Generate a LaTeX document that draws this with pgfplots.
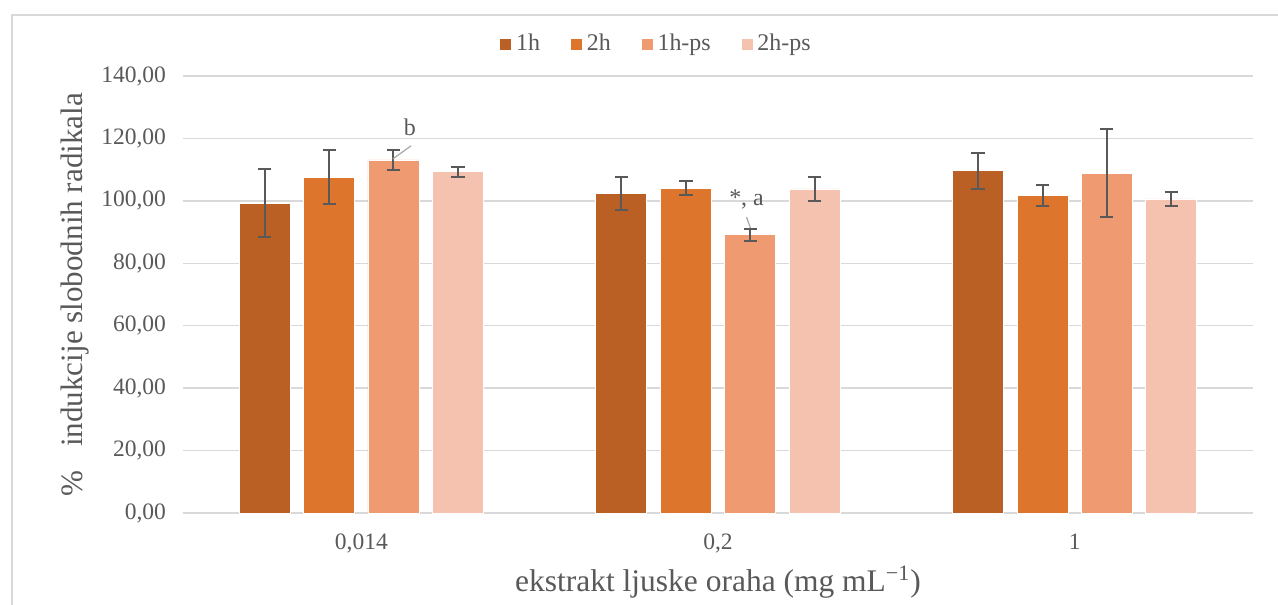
\documentclass[border=0pt]{standalone}
\usepackage{fontspec}
\setmainfont{Liberation Serif}
\usepackage{pgfplots}
\pgfplotsset{compat=1.18}

\definecolor{cA}{HTML}{BB6024}
\definecolor{cB}{HTML}{DE752C}
\definecolor{cC}{HTML}{F09A72}
\definecolor{cD}{HTML}{F5C2B0}
\definecolor{txt}{HTML}{595959}
\definecolor{gridc}{HTML}{D9D9D9}

\begin{document}
\begin{tikzpicture}[x=1bp,y=1bp]
  \useasboundingbox (-91.5bp,-46bp) rectangle (547.5bp,256.5bp);
  \draw[gridc, line width=0.75bp] (-85.5bp,-50bp) -- (-85.5bp,249bp) -- (550bp,249bp);
  \begin{axis}[
      at={(0,0)}, anchor=south west,
      scale only axis, width=535bp, height=218.5bp,
      ybar, bar width=0.143,
      xmin=-0.5, xmax=2.5, ymin=0, ymax=140,
      xtick={0,1,2}, xticklabels={{0,014},{0,2},{1}},
      ytick={0,20,...,140},
      major tick length=0,
      ymajorgrids, grid style={gridc, line width=0.75bp},
      separate axis lines,
      axis x line*=bottom,
      x axis line style={gridc, line width=0.75bp, -},
      y axis line style={draw=none},
      axis y line*=left,
      tick label style={txt, font=\fontsize{11.8}{14}\selectfont},
      yticklabel style={xshift=-5bp},
      xticklabel style={yshift=-7bp},
      /pgf/number format/.cd, fixed, fixed zerofill, precision=2, use comma, assume math mode=true,
      /pgfplots/.cd,
      xlabel={ekstrakt ljuske oraha (mg mL\textsuperscript{−1})},
      ylabel={\%\ \ \ indukcije slobodnih radikala},
      xlabel style={at={(axis description cs:0.5,-0.158)}, anchor=center, txt, font=\fontsize{15.8}{18}\selectfont},
      ylabel style={at={(axis description cs:-0.101,0.5)}, anchor=center, txt, font=\fontsize{15.6}{18}\selectfont},
      legend style={at={(axis description cs:0.443,1.073)}, anchor=center, draw=none, fill=none,
        legend columns=4, font=\fontsize{12}{14}\selectfont, text=txt,
        /tikz/every even column/.append style={column sep=13bp}},
      legend image code/.code={\fill[#1] (0bp,-3bp) rectangle (6bp,3bp);},
      error bars/error bar style={txt, line width=1bp},
      error bars/error mark options={txt, line width=1bp, mark size=3.3bp, rotate=90},
    ]
    \addplot[fill=cA, draw=white, line width=0.4bp, bar shift=-0.271,
      error bars/.cd, y dir=both, y explicit]
      coordinates {(0,99.3) +- (0,10.9) (1,102.5) +- (0,5.3) (2,109.6) +- (0,5.8)};
    \addlegendentry{1h}
    \addplot[fill=cB, draw=white, line width=0.4bp, bar shift=-0.090,
      error bars/.cd, y dir=both, y explicit]
      coordinates {(0,107.6) +- (0,8.6) (1,104.1) +- (0,2.3) (2,101.6) +- (0,3.4)};
    \addlegendentry{2h}
    \addplot[fill=cC, draw=white, line width=0.4bp, bar shift=0.090,
      error bars/.cd, y dir=both, y explicit]
      coordinates {(0,113.1) +- (0,3.2) (1,89.1) +- (0,1.9) (2,108.9) +- (0,14.0)};
    \addlegendentry{1h-ps}
    \addplot[fill=cD, draw=white, line width=0.4bp, bar shift=0.271,
      error bars/.cd, y dir=both, y explicit]
      coordinates {(0,109.3) +- (0,1.5) (1,103.8) +- (0,3.8) (2,100.6) +- (0,2.1)};
    \addlegendentry{2h-ps}

    \draw[gray!70, line width=0.6bp] (axis cs:0.088,113.4) -- (axis cs:0.139,117.6);
    \node[txt, font=\fontsize{12}{14}\selectfont] at (axis cs:0.136,123.6) {b};
    \draw[gray!70, line width=0.6bp] (axis cs:1.08,94.8) -- (axis cs:1.091,91.3);
    \node[txt, font=\fontsize{12}{14}\selectfont] at (axis cs:1.08,100.3) {*, a};
  \end{axis}
\end{tikzpicture}
\end{document}
